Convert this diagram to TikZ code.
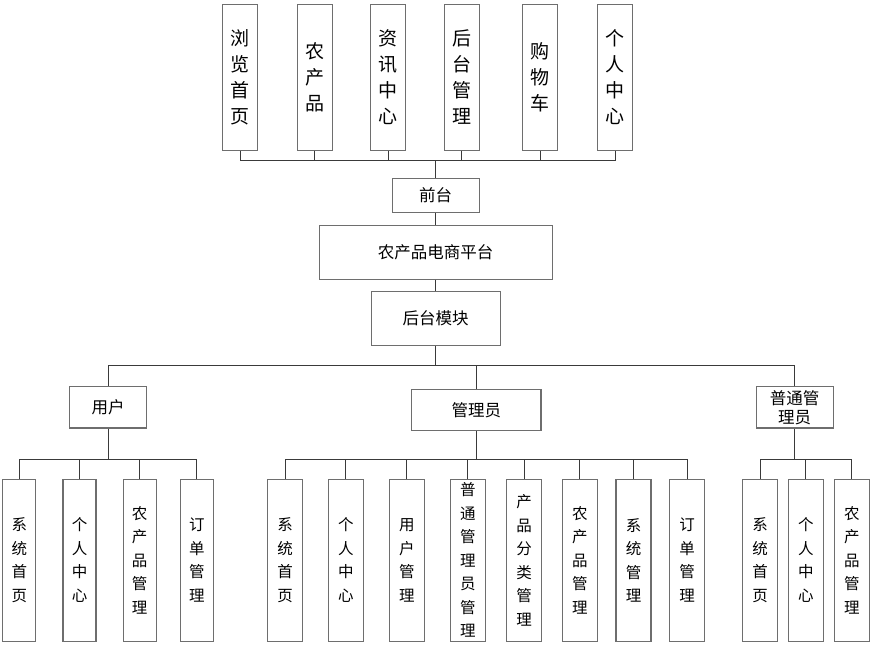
\documentclass[tikz,border=0pt]{standalone}
\usepackage{fontspec}
\newfontfamily\cjk{Noto Sans CJK SC}
\definecolor{boxline}{HTML}{6E6E6E}
\definecolor{conline}{HTML}{3A3A3A}
\tikzset{
  box/.style={draw=boxline, line width=1.1pt, fill=white, inner sep=0pt, align=center, font=\cjk},
  topbox/.style={box, minimum width=35pt, minimum height=145.7pt, font=\cjk\fontsize{19}{26}\selectfont},
  midbox/.style={box, font=\cjk\fontsize{16.5}{19}\selectfont},
  leafbox/.style={box, minimum width=35pt, minimum height=161.7pt, font=\cjk\fontsize{15.5}{23.5}\selectfont},
  con/.style={draw=conline, line width=0.9pt},
}
\begin{document}
\begin{tikzpicture}[x=1pt,y=-1pt]
\useasboundingbox (0,0) rectangle (880,653);
% top row
\node[topbox] (t1) at (240.2,77.2) {浏\\览\\首\\页};
\node[topbox] (t2) at (314.8,77.2) {农\\产\\品};
\node[topbox] (t3) at (388.3,77.2) {资\\讯\\中\\心};
\node[topbox] (t4) at (461.8,77.2) {后\\台\\管\\理};
\node[topbox] (t5) at (540.2,77.2) {购\\物\\车};
\node[topbox] (t6) at (615.2,77.2) {个\\人\\中\\心};
% middle column
\node[midbox, minimum width=86.7pt, minimum height=34.4pt] (qt) at (435.7,195.5) {前台};
\node[midbox, minimum width=233.3pt, minimum height=53.7pt] (pt) at (435.7,252.2) {农产品电商平台};
\node[midbox, minimum width=129.3pt, minimum height=54pt] (ht) at (435.7,318.7) {后台模块};
% roles
\node[midbox, minimum width=76.6pt, minimum height=41.3pt] (yh) at (108,407.3) {用户};
\node[midbox, minimum width=129.3pt, minimum height=41.4pt] (gl) at (476.3,410) {管理员};
\node[midbox, minimum width=76.7pt, minimum height=41.3pt] (pg) at (794.7,407.3) {普通管\\理员};
% leaves of 用户
\node[leafbox, minimum width=33pt] (u1) at (19.3,560.2) {系\\统\\首\\页};
\node[leafbox, minimum width=33pt] (u2) at (79.5,560.2) {个\\人\\中\\心};
\node[leafbox, minimum width=33pt] (u3) at (139.7,560.2) {农\\产\\品\\管\\理};
\node[leafbox, minimum width=33pt] (u4) at (196.8,560.2) {订\\单\\管\\理};
% leaves of 管理员
\node[leafbox] (a1) at (285,560.2) {系\\统\\首\\页};
\node[leafbox] (a2) at (345.8,560.2) {个\\人\\中\\心};
\node[leafbox] (a3) at (406.8,560.2) {用\\户\\管\\理};
\node[leafbox] (a4) at (467.8,560.2) {普\\通\\管\\理\\员\\管\\理};
\node[leafbox] (a5) at (524,560.2) {产\\品\\分\\类\\管\\理};
\node[leafbox] (a6) at (579.8,560.2) {农\\产\\品\\管\\理};
\node[leafbox] (a7) at (633.5,560.2) {系\\统\\管\\理};
\node[leafbox] (a8) at (687,560.2) {订\\单\\管\\理};
% leaves of 普通管理员
\node[leafbox] (p1) at (760.2,560.2) {系\\统\\首\\页};
\node[leafbox] (p2) at (805.8,560.2) {个\\人\\中\\心};
\node[leafbox] (p3) at (851.8,560.2) {农\\产\\品\\管\\理};
% bus coordinates
\coordinate (bTop) at (435.7,160);
\coordinate (bMid) at (435.7,365.5);
\coordinate (bU) at (108,459);
\coordinate (bA) at (476.3,459);
\coordinate (bP) at (794.7,459);
% connectors
\foreach \i in {1,...,6} \draw[con] (t\i.south) |- (bTop);
\draw[con] (bTop) -- (qt.north);
\draw[con] (qt.south) -- (pt.north);
\draw[con] (pt.south) -- (ht.north);
\draw[con] (ht.south) -- (bMid);
\foreach \n in {yh,gl,pg} \draw[con] (\n.north) |- (bMid);
\draw[con] (yh.south) -- (bU);
\draw[con] (gl.south) -- (bA);
\draw[con] (pg.south) -- (bP);
\foreach \i in {1,...,4} \draw[con] (u\i.north) |- (bU);
\foreach \i in {1,...,8} \draw[con] (a\i.north) |- (bA);
\foreach \i in {1,...,3} \draw[con] (p\i.north) |- (bP);
\end{tikzpicture}
\end{document}
